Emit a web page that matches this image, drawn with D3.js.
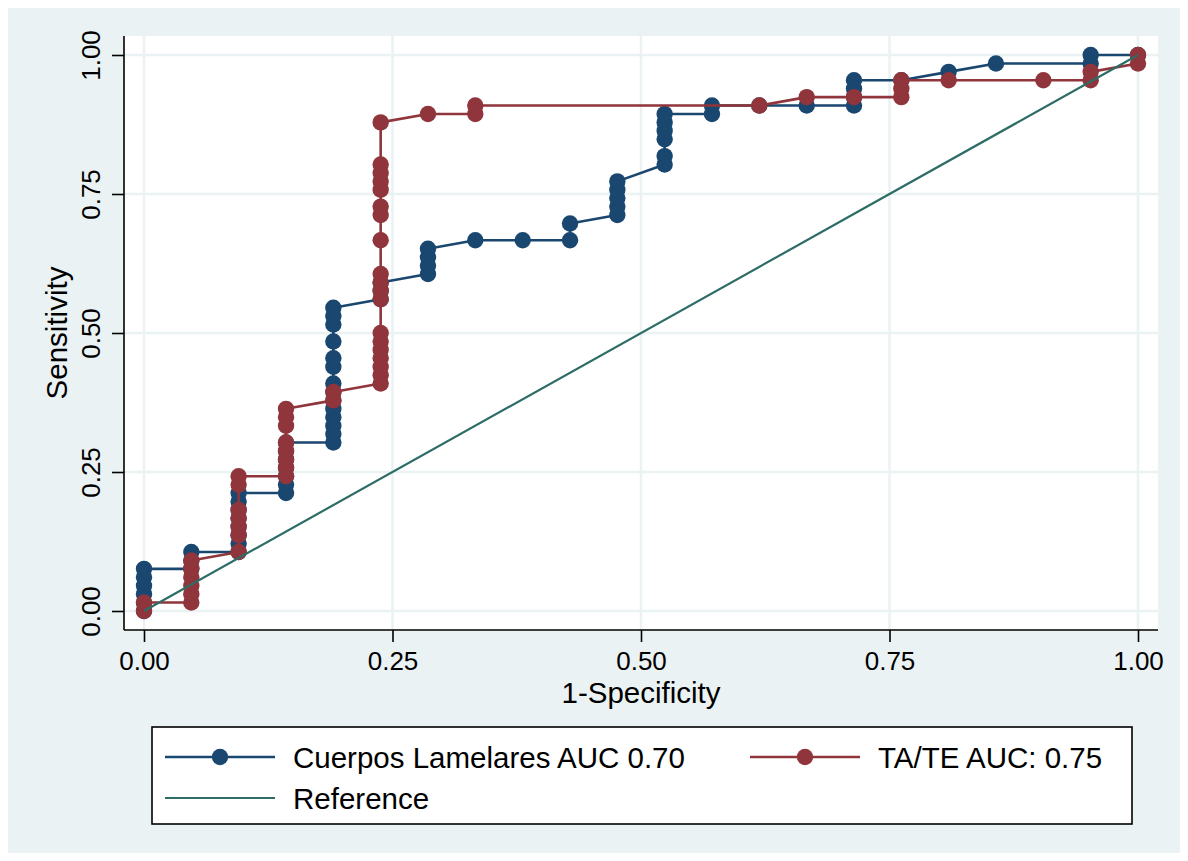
<!DOCTYPE html>
<html>
<head>
<meta charset="utf-8">
<script src="https://cdn.jsdelivr.net/npm/d3@7"></script>
<style>
  html, body { margin: 0; padding: 0; background: #ffffff; }
  svg { display: block; }
  text { font-family: "Liberation Sans", Arial, Helvetica, sans-serif; }
</style>
</head>
<body>
<svg id="chart" width="1188" height="861"></svg>
<script>
// ---- data ----
const tickValues = [0, 0.25, 0.5, 0.75, 1];
const tickLabels = ["0.00", "0.25", "0.50", "0.75", "1.00"];

const blueFPR = [0, 0, 0, 0, 0, 0,
  0.0476, 0.0476, 0.0476,
  0.0952, 0.0952, 0.0952, 0.0952, 0.0952, 0.0952, 0.0952, 0.0952,
  0.1429, 0.1429, 0.1429, 0.1429, 0.1429, 0.1429, 0.1429,
  0.1905, 0.1905, 0.1905, 0.1905, 0.1905, 0.1905, 0.1905, 0.1905, 0.1905, 0.1905, 0.1905, 0.1905, 0.1905, 0.1905,
  0.2381, 0.2381, 0.2381,
  0.2857, 0.2857, 0.2857, 0.2857,
  0.3333, 0.3810, 0.4286, 0.4286,
  0.4762, 0.4762, 0.4762, 0.4762, 0.4762,
  0.5238, 0.5238, 0.5238, 0.5238, 0.5238, 0.5238,
  0.5714, 0.5714, 0.6190, 0.6667,
  0.7143, 0.7143, 0.7143, 0.7143,
  0.7619, 0.8095, 0.8571, 0.9524, 0.9524, 1];
const blueTPR = [0, 0.0152, 0.0303, 0.0455, 0.0606, 0.0758,
  0.0758, 0.0909, 0.1061,
  0.1061, 0.1212, 0.1364, 0.1515, 0.1667, 0.1818, 0.1970, 0.2121,
  0.2121, 0.2273, 0.2424, 0.2576, 0.2727, 0.2879, 0.3030,
  0.3030, 0.3182, 0.3333, 0.3485, 0.3636, 0.3788, 0.3939, 0.4091, 0.4394, 0.4545, 0.4848, 0.5152, 0.5303, 0.5455,
  0.5606, 0.5758, 0.5909,
  0.6061, 0.6212, 0.6364, 0.6515,
  0.6667, 0.6667, 0.6667, 0.6970,
  0.7121, 0.7273, 0.7424, 0.7576, 0.7727,
  0.8030, 0.8182, 0.8485, 0.8636, 0.8788, 0.8939,
  0.8939, 0.9091, 0.9091, 0.9091,
  0.9091, 0.9242, 0.9394, 0.9545,
  0.9545, 0.9697, 0.9848, 0.9848, 1, 1];

const redFPR = [0, 0,
  0.0476, 0.0476, 0.0476, 0.0476, 0.0476, 0.0476,
  0.0952, 0.0952, 0.0952, 0.0952, 0.0952, 0.0952, 0.0952,
  0.1429, 0.1429, 0.1429, 0.1429, 0.1429, 0.1429, 0.1429, 0.1429,
  0.1905, 0.1905,
  0.2381, 0.2381, 0.2381, 0.2381, 0.2381, 0.2381, 0.2381, 0.2381, 0.2381, 0.2381, 0.2381, 0.2381, 0.2381, 0.2381, 0.2381, 0.2381, 0.2381, 0.2381, 0.2381,
  0.2857, 0.3333, 0.3333,
  0.6190, 0.6667, 0.7143,
  0.7619, 0.7619, 0.7619,
  0.8095, 0.9048, 0.9524, 0.9524, 1, 1];
const redTPR = [0, 0.0152,
  0.0152, 0.0303, 0.0455, 0.0606, 0.0758, 0.0909,
  0.1061, 0.1364, 0.1515, 0.1667, 0.1818, 0.2273, 0.2424,
  0.2424, 0.2576, 0.2727, 0.2879, 0.3030, 0.3333, 0.3485, 0.3636,
  0.3788, 0.3939,
  0.4091, 0.4242, 0.4394, 0.4545, 0.4697, 0.4848, 0.5000, 0.5606, 0.5758, 0.5909, 0.6061, 0.6667, 0.7121, 0.7273, 0.7576, 0.7727, 0.7879, 0.8030, 0.8788,
  0.8939, 0.8939, 0.9091,
  0.9091, 0.9242, 0.9242,
  0.9242, 0.9394, 0.9545,
  0.9545, 0.9545, 0.9545, 0.9697, 0.9848, 1];

const refX = [0, 1];
const refY = [0, 1];

const seriesNames = ["Cuerpos Lamelares AUC 0.70", "TA/TE AUC: 0.75", "Reference"];
const xTitle = "1-Specificity";
const yTitle = "Sensitivity";

// ---- styling ----
const COL_BLUE = "#1a476f";
const COL_RED = "#90353b";
const COL_GREEN = "#2d6d66";
const COL_BG = "#eaf2f3";
const TICK_FS = 26;
const LABEL_FS = 29.5;

const svg = d3.select("#chart");

// outer graph region
svg.append("rect").attr("x", 8).attr("y", 8).attr("width", 1172).attr("height", 845).attr("fill", COL_BG);

// plot region
const plot = { left: 124, right: 1158, top: 36, bottom: 630 };
svg.append("rect").attr("x", plot.left).attr("y", plot.top)
  .attr("width", plot.right - plot.left).attr("height", plot.bottom - plot.top).attr("fill", "#ffffff");

const x = d3.scaleLinear().domain([0, 1]).range([144, 1138]);
const y = d3.scaleLinear().domain([0, 1]).range([611, 55]);

// gridlines
const grid = svg.append("g");
tickValues.forEach(v => {
  grid.append("line").attr("x1", x(v)).attr("x2", x(v)).attr("y1", plot.top).attr("y2", plot.bottom)
    .attr("stroke", COL_BG).attr("stroke-width", 2.5);
  grid.append("line").attr("y1", y(v)).attr("y2", y(v)).attr("x1", plot.left).attr("x2", plot.right)
    .attr("stroke", COL_BG).attr("stroke-width", 2.5);
});

// axes
const xAxis = d3.axisBottom(x).tickValues(tickValues).tickFormat((d, i) => tickLabels[i]).tickSize(12).tickPadding(10);
const gx = svg.append("g").attr("transform", `translate(0,${plot.bottom})`).call(xAxis);
gx.select(".domain").attr("d", `M${plot.left},0H${plot.right}`).attr("stroke", "#000").attr("stroke-width", 1.6);
gx.selectAll(".tick line").attr("stroke", "#000").attr("stroke-width", 1.6);
gx.selectAll(".tick text").attr("font-size", TICK_FS).attr("fill", "#000")
  .attr("font-family", "Liberation Sans, Arial, sans-serif");

const yAxis = d3.axisLeft(y).tickValues(tickValues).tickFormat((d, i) => tickLabels[i]).tickSize(12).tickPadding(0);
const gy = svg.append("g").attr("transform", `translate(${plot.left},0)`).call(yAxis);
gy.select(".domain").attr("d", `M0,${plot.top}V${plot.bottom}`).attr("stroke", "#000").attr("stroke-width", 1.6);
gy.selectAll(".tick line").attr("stroke", "#000").attr("stroke-width", 1.6);
gy.selectAll(".tick text")
  .attr("font-size", TICK_FS).attr("fill", "#000")
  .attr("font-family", "Liberation Sans, Arial, sans-serif")
  .attr("x", null).attr("dy", null)
  .attr("text-anchor", "middle")
  .attr("transform", "translate(-24,0) rotate(-90)")
  .attr("y", 0);

// axis titles
svg.append("text").attr("x", (plot.left + plot.right) / 2).attr("y", 703)
  .attr("text-anchor", "middle").attr("font-size", LABEL_FS).attr("fill", "#000").text(xTitle);
svg.append("text").attr("transform", `translate(67,${(plot.top + plot.bottom) / 2}) rotate(-90)`)
  .attr("text-anchor", "middle").attr("font-size", LABEL_FS).attr("fill", "#000").text(yTitle);

// series
const line = d3.line().x(d => x(d[0])).y(d => y(d[1]));
const blue = blueFPR.map((v, i) => [v, blueTPR[i]]);
const red = redFPR.map((v, i) => [v, redTPR[i]]);
const ref = refX.map((v, i) => [v, refY[i]]);

function drawSeries(data, color) {
  const g = svg.append("g");
  g.append("path").datum(data).attr("d", line).attr("fill", "none")
    .attr("stroke", color).attr("stroke-width", 2.6).attr("stroke-linejoin", "round");
  g.selectAll("circle").data(data).enter().append("circle")
    .attr("cx", d => x(d[0])).attr("cy", d => y(d[1])).attr("r", 8.2).attr("fill", color);
}
drawSeries(blue, COL_BLUE);
drawSeries(red, COL_RED);
svg.append("path").datum(ref).attr("d", line).attr("fill", "none")
  .attr("stroke", COL_GREEN).attr("stroke-width", 2.2);

// legend
const lg = svg.append("g");
lg.append("rect").attr("x", 152).attr("y", 727).attr("width", 980).attr("height", 97)
  .attr("fill", "#fff").attr("stroke", "#000").attr("stroke-width", 1.6);
const legendItems = [
  { name: seriesNames[0], color: COL_BLUE, marker: true, lx: 165, ly: 757 },
  { name: seriesNames[1], color: COL_RED, marker: true, lx: 750, ly: 757 },
  { name: seriesNames[2], color: COL_GREEN, marker: false, lx: 165, ly: 798 }
];
legendItems.forEach(it => {
  lg.append("line").attr("x1", it.lx).attr("x2", it.lx + 110).attr("y1", it.ly).attr("y2", it.ly)
    .attr("stroke", it.color).attr("stroke-width", it.marker ? 2.6 : 2.2);
  if (it.marker) lg.append("circle").attr("cx", it.lx + 55).attr("cy", it.ly).attr("r", 8.2).attr("fill", it.color);
  lg.append("text").attr("x", it.lx + 128).attr("y", it.ly + 10.5).attr("font-size", LABEL_FS)
    .attr("fill", "#000").text(it.name);
});
</script>
</body>
</html>
